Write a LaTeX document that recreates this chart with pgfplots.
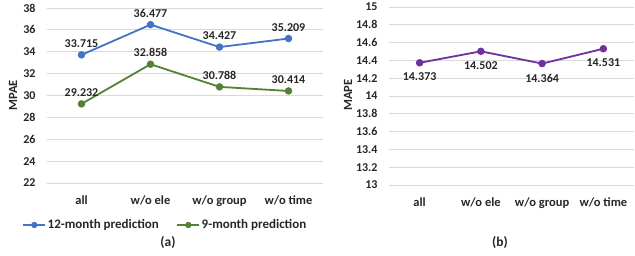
\documentclass[border=0pt]{standalone}
\usepackage{pgfplots}
\pgfplotsset{compat=1.18}
\usepackage{fontspec}
\setmainfont{Carlito}
\definecolor{cblue}{HTML}{4472C4}
\definecolor{cgreen}{HTML}{548235}
\definecolor{cpurple}{HTML}{7030A0}
\definecolor{cgrid}{HTML}{D9D9D9}
\definecolor{ctext}{HTML}{262626}
\begin{document}
\begin{tikzpicture}
\path[use as bounding box] (0pt,0pt) rectangle (635pt,256pt);
\pgfplotsset{
  mystyle/.style={
    scale only axis,
    axis line style={draw=none},
    major tick length=0pt,
    ymajorgrids,
    grid style={cgrid, line width=0.8pt},
    xmin=-0.5, xmax=3.5,
    xtick={0,1,2,3},
    xticklabels={all,w/o ele,w/o group,w/o time},
    /pgf/number format/assume math mode=true,
    xticklabel style={font=\bfseries\fontsize{12.5}{14}\selectfont, text=ctext, yshift=-9pt},
    yticklabel style={font=\bfseries\fontsize{12}{14}\selectfont, text=ctext, xshift=-8pt},
    ylabel style={font=\bfseries\fontsize{12.5}{14}\selectfont, text=ctext, anchor=center},
    every node near coord/.append style={font=\bfseries\fontsize{12}{14}\selectfont, text=ctext},
    point meta=explicit symbolic,
    nodes near coords,
    clip=false,
  },
}
\begin{axis}[mystyle,
  at={(47pt,73pt)}, anchor=south west,
  width=276pt, height=175pt,
  ymin=22, ymax=38, ytick={22,24,...,38},
  ylabel={MPAE},
  ylabel style={at={(axis description cs:-0.123,0.5)}},
  every node near coord/.append style={anchor=south, yshift=3pt},
  legend image code/.code={\draw[mark repeat=2, mark phase=2, mark size=2.2pt] plot coordinates {(0pt,0pt) (11pt,0pt) (22pt,0pt)};},
  legend style={at={(0.428,-0.24)}, anchor=center, draw=none, fill=none,
    legend columns=2, font=\bfseries\fontsize{13}{15}\selectfont, text=ctext,
    /tikz/every odd column/.append style={column sep=0pt},
    /tikz/every even column/.append style={column sep=16pt},
    nodes={inner xsep=1.5pt}},
]
\addplot[cblue, line width=1.8pt, mark=*, mark size=2.8pt] coordinates {
  (0,33.715) [33.715]
  (1,36.477) [36.477]
  (2,34.427) [34.427]
  (3,35.209) [35.209]
};
\addlegendentry{12-month prediction}
\addplot[cgreen, line width=1.8pt, mark=*, mark size=2.8pt] coordinates {
  (0,29.232) [29.232]
  (1,32.858) [32.858]
  (2,30.788) [30.788]
  (3,30.414) [30.414]
};
\addlegendentry{9-month prediction}
\end{axis}
\begin{axis}[mystyle,
  at={(389pt,71pt)}, anchor=south west,
  width=245pt, height=178pt,
  ymin=13, ymax=15,
  ytick={13,13.2,13.4,13.6,13.8,14,14.2,14.4,14.6,14.8,15},
  yticklabels={13,13.2,13.4,13.6,13.8,14,14.2,14.4,14.6,14.8,15},
  ylabel={MAPE},
  ylabel style={at={(axis description cs:-0.167,0.506)}},
  every node near coord/.append style={anchor=north, yshift=-6pt},
]
\addplot[cpurple, line width=1.8pt, mark=*, mark size=2.8pt] coordinates {
  (0,14.373) [14.373]
  (1,14.502) [14.502]
  (2,14.364) [14.364]
  (3,14.531) [14.531]
};
\end{axis}
\node[font=\bfseries\fontsize{13.5}{15}\selectfont, text=ctext] at (168pt,13pt) {(a)};
\node[font=\bfseries\fontsize{13.5}{15}\selectfont, text=ctext] at (500pt,13pt) {(b)};
\end{tikzpicture}
\end{document}
